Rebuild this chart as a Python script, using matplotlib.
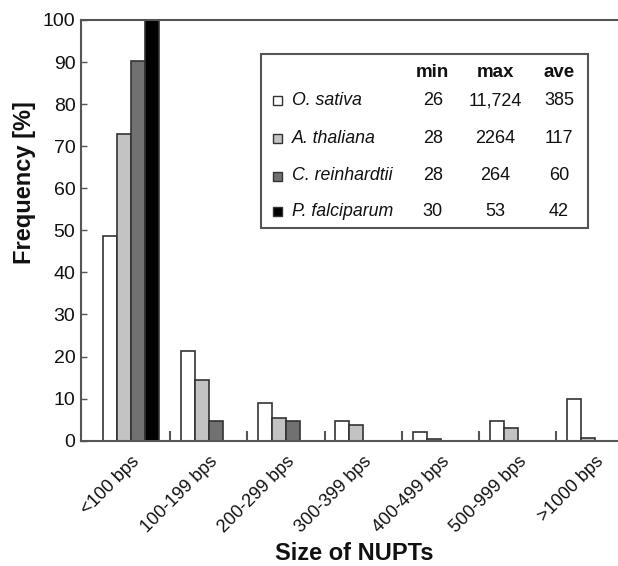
import matplotlib
matplotlib.use("Agg")
import matplotlib.pyplot as plt
from matplotlib.patches import Rectangle
import numpy as np

plt.rcParams['font.family'] = ['Liberation Sans', 'DejaVu Sans']

categories = ["<100 bps", "100-199 bps", "200-299 bps", "300-399 bps",
              "400-499 bps", "500-999 bps", ">1000 bps"]
species = ["O. sativa", "A. thaliana", "C. reinhardtii", "P. falciparum"]
o_sativa = [48.7, 21.3, 9.0, 4.7, 2.1, 4.6, 9.9]
a_thaliana = [72.8, 14.4, 5.3, 3.7, 0.4, 3.0, 0.7]
c_reinhardtii = [90.3, 4.8, 4.8, 0, 0, 0, 0]
p_falciparum = [100, 0, 0, 0, 0, 0, 0]
series = [o_sativa, a_thaliana, c_reinhardtii, p_falciparum]
colors = ["#ffffff", "#c3c3c3", "#717171", "#000000"]
stat_headers = ["min", "max", "ave"]
stat_min = ["26", "28", "28", "30"]
stat_max = ["11,724", "2264", "264", "53"]
stat_ave = ["385", "117", "60", "42"]

fig = plt.figure(figsize=(6.18, 5.66), dpi=100)
ax = fig.add_axes([81/618, 1 - 440.7/566, 1 - 81/618, (440.7 - 20)/566])

x = np.arange(len(categories))
w = 0.181
for i, (vals, c) in enumerate(zip(series, colors)):
    xs = x + (i - 1.5) * w
    for xi, v in zip(xs, vals):
        if v > 0:
            ax.bar(xi, v, width=w, color=c, edgecolor="#333333", linewidth=1.2, zorder=2)

ax.set_xlim(-0.651, 6.296)
ax.set_ylim(0, 100)
ax.set_yticks(np.arange(0, 101, 10))
ax.tick_params(axis='y', direction='in', length=4, width=1, colors="#555555",
               labelcolor="#111111", labelsize=14, pad=4)
ax.set_xticks(x)
ax.set_xticklabels(categories, rotation=45, ha='right', rotation_mode='anchor', fontsize=13)
ax.tick_params(axis='x', length=0, pad=9, labelcolor="#111111")
ax.set_xticks(x[:-1] + 0.5, minor=True)
ax.tick_params(axis='x', which='minor', direction='in', length=7, width=1.5, colors="#555555")

for s in ['left', 'top', 'bottom']:
    ax.spines[s].set_color("#555555")
    ax.spines[s].set_linewidth(1.5)
ax.spines['right'].set_visible(False)

fig.text(25/618, 1 - 182.5/566, "Frequency [%]", fontsize=17, fontweight='bold',
         rotation=90, ha='center', va='center', color="#111111")
fig.text(354/618, 1 - 553/566, "Size of NUPTs", fontsize=17, fontweight='bold',
         ha='center', va='center', color="#111111")

def fx(px):
    return px / 618
def fy(py):
    return 1 - py / 566

fig.patches.append(Rectangle((fx(261), fy(227.7)), fx(588.3) - fx(261), fy(54) - fy(227.7),
                             transform=fig.transFigure, facecolor='white',
                             edgecolor='#555555', linewidth=1.5, zorder=5))
col_x = [432.7, 495, 559]
for h, cx in zip(stat_headers, col_x):
    fig.text(fx(cx), fy(72.3), h, fontsize=13.5, fontweight='bold', ha='center', va='center',
             zorder=6, color="#111111")
row_y = [100.7, 138.3, 176, 211.7]
for sp, c, mn, mx, av, ry in zip(species, colors, stat_min, stat_max, stat_ave, row_y):
    fig.patches.append(Rectangle((fx(272.5), fy(ry + 4.5)), fx(9), 9/566,
                                 transform=fig.transFigure, facecolor=c,
                                 edgecolor='#333333', linewidth=1, zorder=6))
    fig.text(fx(292), fy(ry), sp, fontsize=12.8, style='italic', ha='left', va='center',
             zorder=6, color="#111111")
    for val, cx in zip([mn, mx, av], col_x):
        fig.text(fx(cx), fy(ry), val, fontsize=13, ha='center', va='center', zorder=6,
                 color="#111111")

fig.savefig("out.png", dpi=100)
